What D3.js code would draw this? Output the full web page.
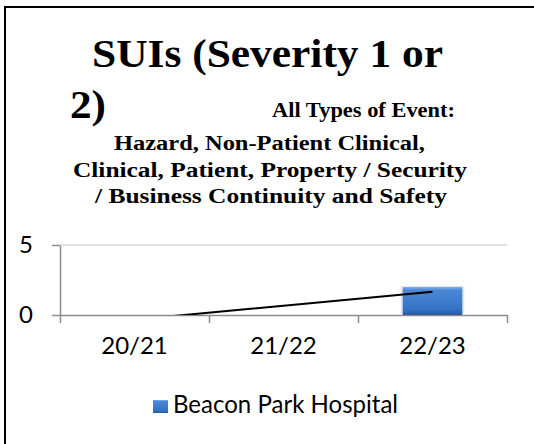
<!DOCTYPE html>
<html>
<head>
<meta charset="utf-8">
<script src="https://cdn.jsdelivr.net/npm/d3@7"></script>
<style>
  body { margin: 0; background: #fff; }
  svg { display: block; }
</style>
</head>
<body>
<div id="chart"></div>
<script>
// chart data
var categories = ["20/21", "21/22", "22/23"];
var values = [0, 0, 2];
var yTicks = [0, 5];
var seriesName = "Beacon Park Hospital";
var titleMain = ["SUIs (Severity 1 or", "2)"];
var subTitle = ["All Types of Event:", "Hazard, Non-Patient Clinical,",
  "Clinical, Patient, Property / Security", "/ Business Continuity and Safety"];

var width = 534,
    height = 444;

var serif = "'Liberation Serif', serif";
var sans = "Lato, 'Open Sans', sans-serif";

var svg = d3.select("#chart").append("svg")
    .attr("width", width)
    .attr("height", height);

svg.append("rect").attr("width", width).attr("height", height).attr("fill", "#fff");

// outer frame (only left and top edge are visible)
svg.append("path")
    .attr("d", "M5,444V7H534")
    .attr("fill", "none")
    .attr("stroke", "#000")
    .attr("stroke-width", 2);

// titles
var t1 = [
  { text: titleMain[0], x: 92, y: 67, size: 41, len: 351 },
  { text: titleMain[1], x: 70, y: 118, size: 41, len: 36 }
];
svg.selectAll(".title").data(t1).enter().append("text")
    .attr("class", "title")
    .attr("x", function(d) { return d.x; })
    .attr("y", function(d) { return d.y; })
    .attr("textLength", function(d) { return d.len; })
    .attr("lengthAdjust", "spacingAndGlyphs")
    .style("font-family", serif)
    .style("font-weight", "bold")
    .style("font-size", function(d) { return d.size + "px"; })
    .text(function(d) { return d.text; });

var t2 = [
  { x: 272, y: 117, len: 183 },
  { x: 114, y: 150, len: 311 },
  { x: 73, y: 177, len: 394 },
  { x: 95, y: 203, len: 352 }
];
svg.selectAll(".subtitle").data(subTitle).enter().append("text")
    .attr("class", "subtitle")
    .attr("x", function(d, i) { return t2[i].x; })
    .attr("y", function(d, i) { return t2[i].y; })
    .attr("textLength", function(d, i) { return t2[i].len; })
    .attr("lengthAdjust", "spacingAndGlyphs")
    .style("font-family", serif)
    .style("font-weight", "bold")
    .style("font-size", "20px")
    .text(function(d) { return d; });

// plot area
var plotLeft = 60, plotRight = 507, plotTop = 245, plotBottom = 315;

var x = d3.scaleBand()
    .domain(categories)
    .range([plotLeft, plotRight])
    .paddingInner(0.6)
    .paddingOuter(0.3);

var xEdge = d3.scaleLinear()
    .domain([0, categories.length])
    .range([plotLeft, plotRight]);

var y = d3.scaleLinear()
    .domain([0, 5])
    .range([plotBottom, plotTop]);

// gridlines
svg.append("g")
  .selectAll("line")
  .data(yTicks.filter(function(d) { return d > 0; }))
  .enter().append("line")
    .attr("x1", plotLeft).attr("x2", plotRight)
    .attr("y1", function(d) { return y(d); })
    .attr("y2", function(d) { return y(d); })
    .attr("stroke", "#d9d9d9")
    .attr("stroke-width", 1.5);

// y axis
var yAxis = svg.append("g")
    .attr("transform", "translate(" + plotLeft + ",0)")
    .call(d3.axisLeft(y).tickValues(yTicks).tickFormat(d3.format("d"))
      .tickSize(8).tickPadding(19).tickSizeOuter(0));
yAxis.select(".domain").attr("stroke", "#8c8c8c").attr("stroke-width", 1.5);
yAxis.selectAll(".tick line").attr("stroke", "#8c8c8c").attr("stroke-width", 1.5);
yAxis.selectAll(".tick text")
    .attr("fill", "#000")
    .style("font-family", sans)
    .style("font-size", "24px");

// x axis: tick marks at category edges, labels at centres
var xTicks = svg.append("g")
    .attr("transform", "translate(0," + plotBottom + ")")
    .call(d3.axisBottom(xEdge).tickValues(d3.range(categories.length + 1))
      .tickFormat("").tickSize(8).tickSizeOuter(0));
xTicks.select(".domain").attr("stroke", "#8c8c8c").attr("stroke-width", 1.5);
xTicks.selectAll(".tick line").attr("stroke", "#8c8c8c").attr("stroke-width", 1.5);

var xLabels = svg.append("g")
    .attr("transform", "translate(0," + plotBottom + ")")
    .call(d3.axisBottom(x).tickSize(0).tickPadding(22));
xLabels.select(".domain").remove();
xLabels.selectAll(".tick text")
    .attr("fill", "#000")
    .style("font-family", sans)
    .style("font-size", "24px");

// bar gradient
var defs = svg.append("defs");
var grad = defs.append("linearGradient")
    .attr("id", "barFill")
    .attr("x1", 0).attr("y1", 0).attr("x2", 0).attr("y2", 1);
grad.append("stop").attr("offset", "0%").attr("stop-color", "#7fb0ea");
grad.append("stop").attr("offset", "12%").attr("stop-color", "#4a88d6");
grad.append("stop").attr("offset", "80%").attr("stop-color", "#3473c4");
grad.append("stop").attr("offset", "100%").attr("stop-color", "#27599c");

// bars (with soft shadow)
svg.append("g")
  .selectAll("rect")
  .data(values)
  .enter().append("rect")
    .attr("x", function(d, i) { return x(categories[i]) - 2; })
    .attr("y", function(d) { return y(d) - 1; })
    .attr("width", x.bandwidth() + 4)
    .attr("height", function(d) { return y(0) - y(d) + 1; })
    .attr("fill", "#e6e6e6")
    .attr("opacity", function(d) { return d > 0 ? 1 : 0; });

svg.append("g")
  .selectAll("rect")
  .data(values)
  .enter().append("rect")
    .attr("x", function(d, i) { return x(categories[i]); })
    .attr("y", function(d) { return y(d); })
    .attr("width", x.bandwidth())
    .attr("height", function(d) { return y(0) - y(d); })
    .attr("fill", "url(#barFill)");

// linear trendline, clipped to the plot area
var n = values.length;
var xs = d3.range(1, n + 1);
var mx = d3.mean(xs), my = d3.mean(values);
var slope = d3.sum(xs, function(v, i) { return (v - mx) * (values[i] - my); }) /
            d3.sum(xs, function(v) { return (v - mx) * (v - mx); });
var intercept = my - slope * mx;

defs.append("clipPath").attr("id", "plotClip")
  .append("rect")
    .attr("x", plotLeft).attr("y", plotTop)
    .attr("width", plotRight - plotLeft).attr("height", plotBottom - plotTop);

var trend = xs.map(function(v, i) {
  return [x(categories[i]) + x.bandwidth() / 2, y(intercept + slope * v)];
});
svg.append("path")
    .attr("clip-path", "url(#plotClip)")
    .attr("d", d3.line()(trend))
    .attr("fill", "none")
    .attr("stroke", "#000")
    .attr("stroke-width", 2);

// legend
var legend = svg.append("g").attr("transform", "translate(153,400)");
legend.append("rect")
    .attr("width", 15).attr("height", 13)
    .attr("fill", "url(#barFill)");
legend.append("text")
    .attr("x", 20).attr("y", 13)
    .attr("textLength", 225)
    .attr("lengthAdjust", "spacingAndGlyphs")
    .style("font-family", sans)
    .style("font-size", "25px")
    .text(seriesName);
</script>
</body>
</html>
